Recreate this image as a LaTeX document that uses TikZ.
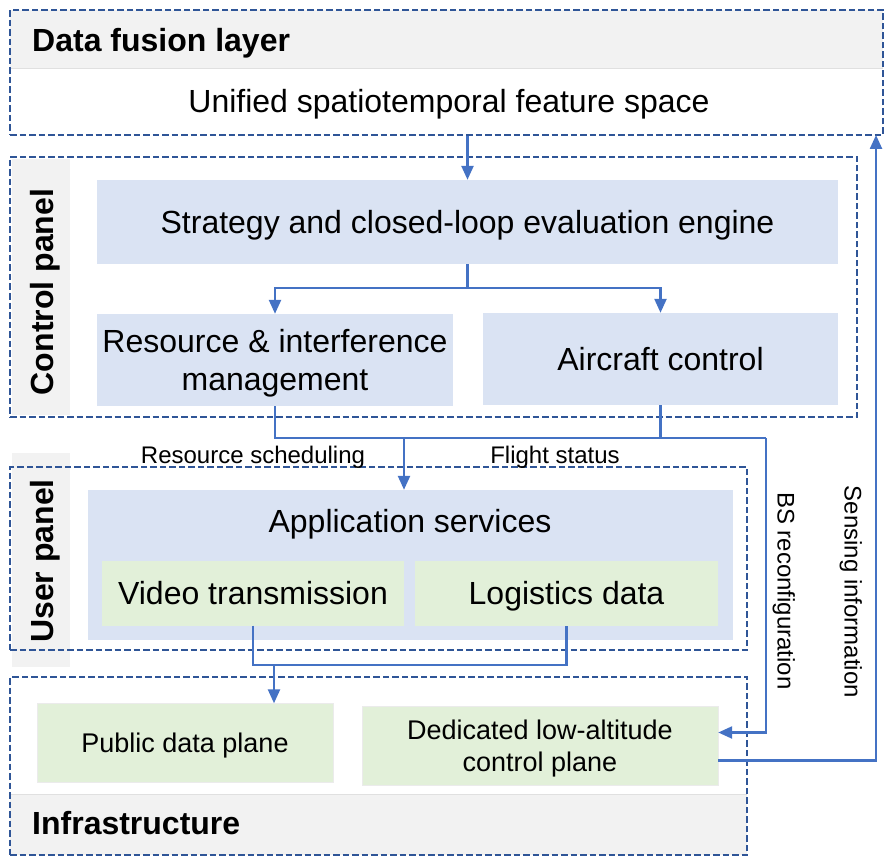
\documentclass[tikz,border=0pt]{standalone}
\usepackage{fontspec}
\setmainfont{Liberation Sans}
\usetikzlibrary{positioning,arrows.meta}
\definecolor{dashblue}{HTML}{2F5597}
\definecolor{linkblue}{HTML}{4472C4}
\definecolor{blockblue}{HTML}{DAE3F3}
\definecolor{blockgreen}{HTML}{E2F0D9}
\definecolor{bandgray}{HTML}{F2F2F2}
\begin{document}
\begin{tikzpicture}[x=1pt, y=-1pt,
    layer/.style={draw=dashblue, line width=2.4pt, dash pattern=on 6.5pt off 3pt, rectangle, inner sep=0pt},
    band/.style={fill=bandgray, rectangle, inner sep=0pt},
    capped/.style={text height=#1, text depth=0pt},
    bluebox/.style={fill=blockblue, rectangle, inner sep=0pt, align=center, font=\fontsize{32}{38}\selectfont},
    greenbox/.style={fill=blockgreen, rectangle, inner sep=0pt, align=center, font=\fontsize{32}{38}\selectfont, capped=23pt},
    planebox/.style={fill=blockgreen, draw=black!8, rectangle, inner sep=0pt, align=center, font=\fontsize{27}{32}\selectfont},
    title/.style={font=\fontsize{32}{36}\selectfont\bfseries, inner sep=0pt, capped=23pt},
    tag/.style={font=\fontsize{24}{28}\selectfont, inner sep=0pt, capped=17pt},
    link/.style={draw=linkblue, line width=2.4pt},
    flow/.style={link, -{Triangle[length=14pt, width=12pt]}}]
    \useasboundingbox (0,0) rectangle (885,858);

    % grey header bands
    \node[band, minimum width=873, minimum height=58] (fusionband) at (446.5,39) {};
    \node[band, minimum width=58, minimum height=256] (controlband) at (41,287) {};
    \node[band, minimum width=58, minimum height=214] (userband) at (41,560) {};
    \node[band, minimum width=737, minimum height=60] (infraband) at (378.5,825) {};
    \draw[black!12, line width=1pt] (fusionband.south west) -- (fusionband.south east);
    \draw[black!12, line width=1pt] (infraband.north west) -- (infraband.north east);

    % layers
    \node[layer, minimum width=873, minimum height=125] (fusion) at (446.5,72.5) {};
    \node[layer, minimum width=847, minimum height=260] (control) at (433.5,287) {};
    \node[layer, minimum width=737, minimum height=183] (user) at (378.5,558.5) {};
    \node[layer, minimum width=737, minimum height=178] (infra) at (378.5,766) {};

    \node[title, anchor=west] (fusiontitle) at (32,40) {Data fusion layer};
    \node[title, rotate=90] (controltitle) at (42,292) {Control panel};
    \node[title, rotate=90] (usertitle) at (42,561) {User panel};
    \node[title, anchor=west] (infratitle) at (32,823) {Infrastructure};
    \node[font=\fontsize{32}{36}\selectfont, inner sep=0pt, capped=23pt] (feature) at (449,101) {Unified spatiotemporal feature space};

    % control panel
    \node[bluebox, capped=23pt, minimum width=741, minimum height=84] (strategy) at (467.5,222) {Strategy and closed-loop evaluation engine};
    \node[bluebox, capped=61pt, minimum width=356, minimum height=92] (resource) at (275,360) {Resource \& interference\\management};
    \node[bluebox, capped=23pt, minimum width=355, minimum height=92] (aircraft) at (660.5,359) {Aircraft control};

    % user panel
    \node[bluebox, minimum width=645, minimum height=150] (apps) at (410.5,565) {};
    \node[font=\fontsize{32}{36}\selectfont, inner sep=0pt, capped=23pt] (appstitle) at (410,521) {Application services};
    \node[greenbox, minimum width=302, minimum height=65] (video) at (253,593) {Video transmission};
    \node[greenbox, minimum width=303, minimum height=65] (logistics) at (566.5,593) {Logistics data};

    % infrastructure
    \node[planebox, capped=19.5pt, minimum width=296, minimum height=79] (public) at (185,743) {Public data plane};
    \node[planebox, capped=51.5pt, minimum width=356, minimum height=79] (dedicated) at (540,745.5) {Dedicated low-altitude\\control plane};

    \coordinate (join) at (404,438);
    \coordinate (bsturn) at (766,438);
    \coordinate (merge) at (274,665);
    \coordinate (senseup) at (876,135);

    \draw[flow] (strategy.north |- fusion.south) -- (strategy.north);
    \draw[flow] (strategy.south) -- ++(0,24) -| (resource.north);
    \draw[flow] (strategy.south) -- ++(0,24) -| (aircraft.north);
    \draw[link] (resource.south) |- (bsturn);
    \draw[link] (aircraft.south) -- (aircraft.south |- bsturn);
    \draw[flow] (bsturn) |- ([yshift=13pt]dedicated.east);
    \draw[flow] (join) -- (join |- apps.north);
    \draw[link] (video.south) |- (merge) -| (logistics.south);
    \draw[flow] (merge) -- (merge |- public.north);
    \draw[flow] ([yshift=-15pt]dedicated.east) -| (senseup);

    \node[tag] (schedtag) at (253,455) {Resource scheduling};
    \node[tag] (flighttag) at (555,455) {Flight status};
    \node[tag, rotate=-90] (bstag) at (786,591) {BS reconfiguration};
    \node[tag, rotate=-90] (sensetag) at (853,592) {Sensing information};
\end{tikzpicture}
\end{document}
